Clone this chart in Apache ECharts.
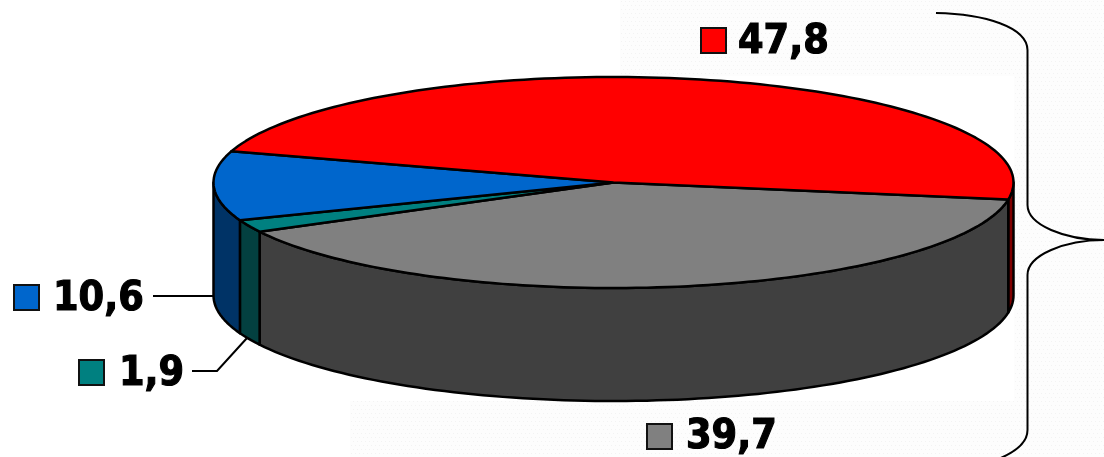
<!DOCTYPE html>
<html><head><meta charset="utf-8">
<style>html,body{margin:0;padding:0;background:#fff}#c{width:1104px;height:457px}</style>
<script src="https://cdn.jsdelivr.net/npm/echarts@6/dist/echarts.min.js"></script>
</head><body><div id="c"></div>
<script>
// Data, clockwise from the red/grey boundary
const categories = ['Grey', 'Teal', 'Blue', 'Red'];
const values = [39.7, 1.9, 10.6, 47.8];
const topColors = ['#808080', '#008080', '#0066CC', '#FF0000'];
const wallColors = ['#404040', '#034040', '#003366', '#800000'];

// Presentation
const disc = {cx: 613.5, cy: 182.5, rx: 400, ry: 105.5, depth: 113, startDeg: 9.3};
const labelPos = [[647, 424, 686, 418], [79, 360, 119, 355], [14, 285, 53, 280], [701, 28, 738, 23]];

const total = values.reduce((a, b) => a + b, 0);
const rad = d => d * Math.PI / 180;
const pt = (d, dy) => [disc.cx + disc.rx * Math.cos(rad(d)), disc.cy + disc.ry * Math.sin(rad(d)) + (dy || 0)];
function arc(a, b, dy) { const out = []; const n = Math.max(2, Math.ceil(Math.abs(b - a) / 1.5));
  for (let i = 0; i <= n; i++) out.push(pt(a + (b - a) * i / n, dy)); return out; }

const ranges = []; { let s = disc.startDeg; values.forEach(v => { const e = s + v / total * 360; ranges.push([s, e]); s = e; }); }

function dots() { const c = document.createElement('canvas'); c.width = c.height = 8; const x = c.getContext('2d');
  x.fillStyle = '#fdfdfd'; x.fillRect(0, 0, 8, 8); x.fillStyle = '#f3f3f3'; x.fillRect(1, 1, 1, 1); x.fillRect(5, 1, 1, 1); x.fillRect(3, 5, 1, 1); x.fillRect(7, 5, 1, 1); return c; }
const tex = {image: dots(), repeat: 'repeat'};

function wall(i) {
  const [s, e] = ranges[i]; const kids = [];
  [[s, e], [s - 360, e - 360]].forEach(([a, b]) => {
    const from = Math.max(a, 0), to = Math.min(b, 180);
    if (to <= from) return;
    const p = arc(from, to, 0).concat(arc(to, from, disc.depth));
    kids.push({type: 'polygon', shape: {points: p}, style: {fill: wallColors[i], stroke: '#000', lineWidth: 2.5, lineJoin: 'round'}});
  });
  return kids;
}
function renderLabels(params, api) {
  const i = api.value(0);
  const [kx, ky, tx, ty] = labelPos[i];
  return {type: 'group', children: [
    {type: 'rect', shape: {x: kx, y: ky, width: 25, height: 25}, style: {fill: topColors[i], stroke: '#111', lineWidth: 2}},
    {type: 'text', x: tx, y: ty, scaleX: 0.92, style: {text: String(values[i]).replace('.', ','), fill: '#000', stroke: '#000', lineWidth: 1.2,
      font: 'bold 40px "DejaVu Sans"', verticalAlign: 'top', align: 'left'}}
  ]};
}
function renderWalls(params, api) { return {type: 'group', children: wall(api.value(0))}; }
function renderTops(params, api) {
  const i = api.value(0), [s, e] = ranges[i];
  return {type: 'polygon', shape: {points: [[disc.cx, disc.cy]].concat(arc(s, e, 0))},
    style: {fill: topColors[i], stroke: '#000', lineWidth: 2.5, lineJoin: 'round'}};
}
const seriesData = values.map((v, i) => ({name: categories[i], value: [i, v]}));
// Walls painted back to front so nearer edges stay on top
const wallData = [3, 0, 1, 2].map(i => ({name: categories[i], value: [i, values[i]]}));

const ink = {stroke: '#000', lineWidth: 2, fill: null};
const chart = echarts.init(document.getElementById('c'), null, {renderer: 'canvas'});
chart.setOption({
  animation: false, backgroundColor: '#fff',
  graphic: [
    {type: 'rect', z: -10, shape: {x: 350, y: 401, width: 754, height: 56}, style: {fill: tex}},
    {type: 'rect', z: -10, shape: {x: 1014, y: 0, width: 90, height: 457}, style: {fill: tex}},
    {type: 'rect', z: -10, shape: {x: 620, y: 0, width: 484, height: 76}, style: {fill: tex}},
    {type: 'polyline', z: 1, shape: {points: [[153, 296], [214, 296]]}, style: ink},
    {type: 'polyline', z: 1, shape: {points: [[192, 371], [217, 371], [247, 338]]}, style: ink},
    {type: 'bezierCurve', z: 1, shape: {x1: 936, y1: 13, cpx1: 985, cpy1: 14, cpx2: 1027, cpy2: 27, x2: 1027.5, y2: 50}, style: ink},
    {type: 'polyline', z: 1, shape: {points: [[1027.5, 50], [1027.5, 205]]}, style: ink},
    {type: 'bezierCurve', z: 1, shape: {x1: 1027.5, y1: 205, cpx1: 1027.5, cpy1: 225, cpx2: 1065, cpy2: 240, x2: 1104, y2: 240}, style: ink},
    {type: 'bezierCurve', z: 1, shape: {x1: 1104, y1: 240, cpx1: 1065, cpy1: 240, cpx2: 1027.5, cpy2: 255, x2: 1027.5, y2: 275}, style: ink},
    {type: 'polyline', z: 1, shape: {points: [[1027.5, 275], [1027.5, 430]]}, style: ink},
    {type: 'bezierCurve', z: 1, shape: {x1: 1027.5, y1: 430, cpx1: 1027.5, cpy1: 452, cpx2: 985, cpy2: 470, x2: 936, y2: 470}, style: ink}
  ],
  series: [
    {type: 'custom', coordinateSystem: 'none', z: 2, silent: true, data: wallData, renderItem: renderWalls},
    {type: 'custom', coordinateSystem: 'none', z: 3, silent: true, data: seriesData, renderItem: renderTops},
    {type: 'custom', coordinateSystem: 'none', z: 4, silent: true, data: seriesData, renderItem: renderLabels}
  ]
});
</script></body></html>
